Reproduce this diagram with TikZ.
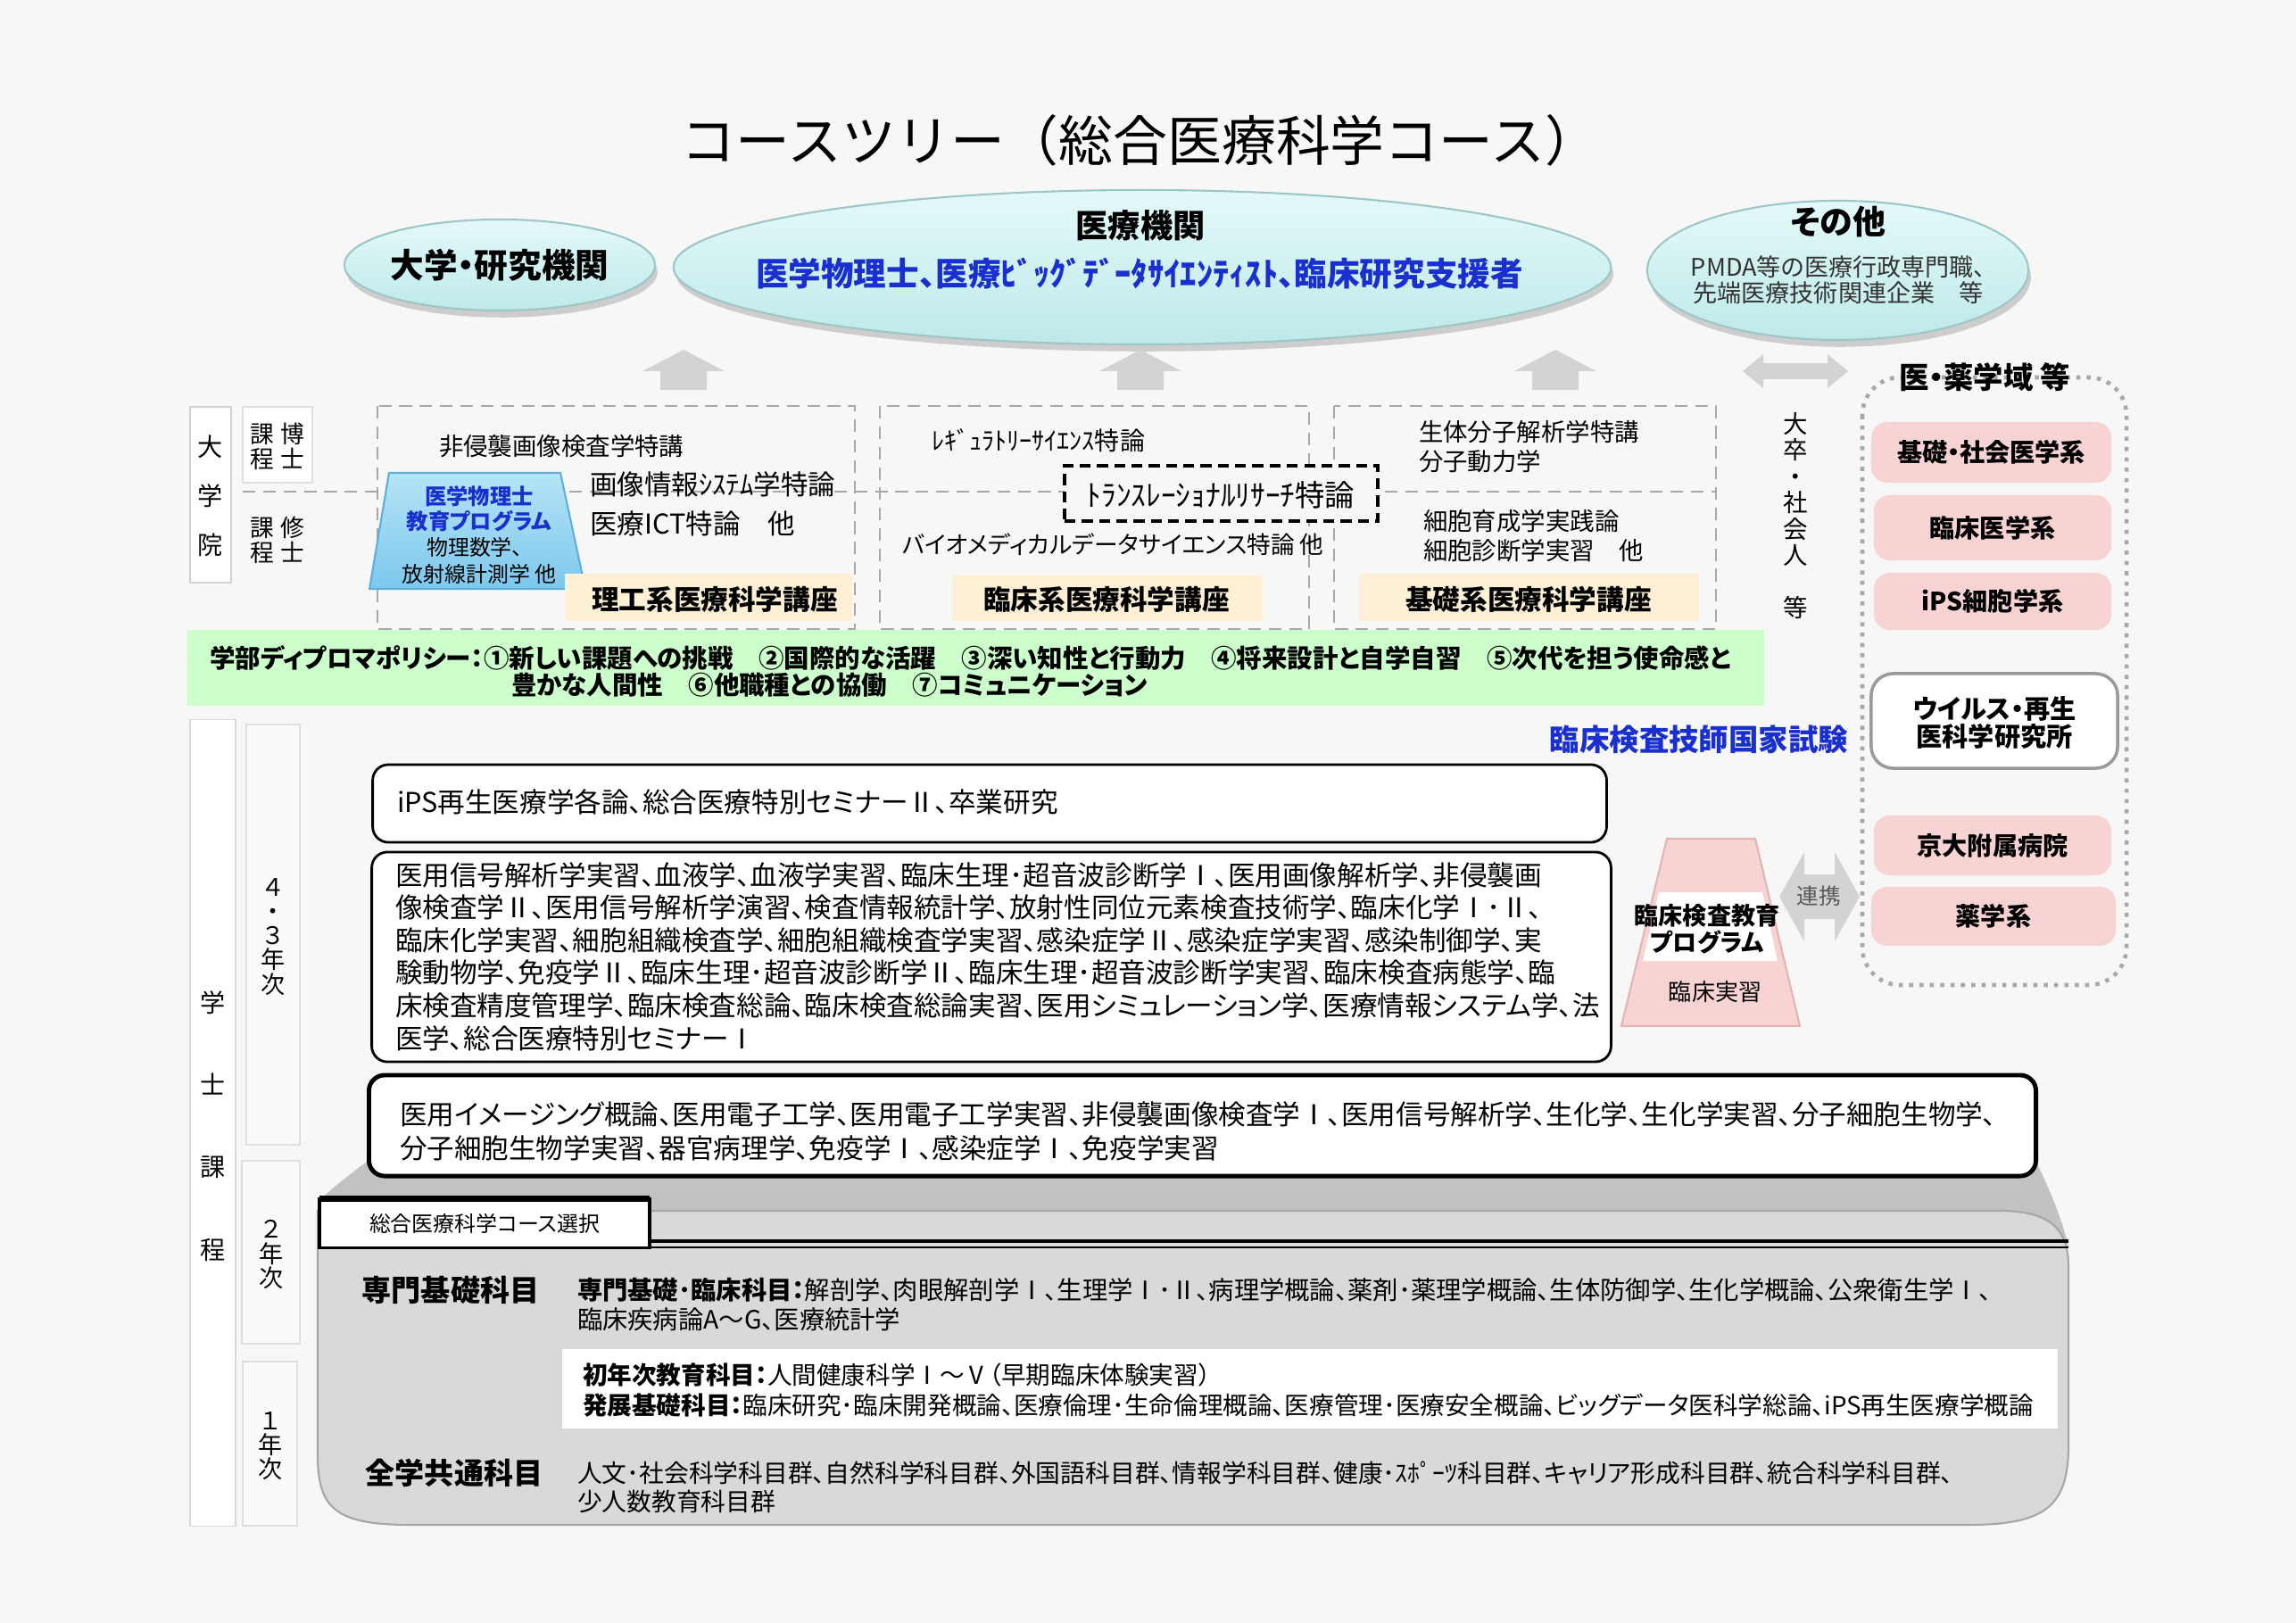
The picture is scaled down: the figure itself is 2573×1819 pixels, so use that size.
\documentclass[tikz,border=0pt]{standalone}
\usepackage{fontspec}
\usepackage{graphicx}
\setmainfont{Noto Sans CJK JP}[RawFeature={+palt}]
\newfontfamily\jpfull{Noto Sans CJK JP}
\usetikzlibrary{shapes.geometric,shadows,calc}
\XeTeXlinebreaklocale "ja"
\definecolor{bgc}{HTML}{F7F7F7}
\definecolor{cyantop}{HTML}{E4F9F9}
\definecolor{cyanbot}{HTML}{BEE9E9}
\definecolor{cyanrim}{HTML}{9FC6C6}
\definecolor{bluetxt}{HTML}{1A2FD0}
\definecolor{bluetop}{HTML}{B6E4F7}
\definecolor{bluebot}{HTML}{7CC8EE}
\definecolor{blueedge}{HTML}{5FAFD8}
\definecolor{yellowlab}{HTML}{FDF0D5}
\definecolor{greenband}{HTML}{CCFFCC}
\definecolor{pinkbox}{HTML}{F8D3D3}
\definecolor{pinkedge}{HTML}{E2B4B4}
\definecolor{graylight}{HTML}{D9D9D9}
\definecolor{graydark}{HTML}{C2C2C2}
\definecolor{grayedge}{HTML}{A6A6A6}
\definecolor{arrowgray}{HTML}{D3D3D3}
\definecolor{dashgray}{HTML}{A8A8A8}
\definecolor{yearfill}{HTML}{FAFAFA}
\newcommand\fsz[2]{\fontsize{#1}{#2}\selectfont}
\begin{document}
\begin{tikzpicture}[x=0.01cm,y=-0.01cm,
  every node/.style={inner sep=0pt,outer sep=0pt},
  tx/.style={align=left,anchor=west},
  ctr/.style={align=center},
  ell/.style={ellipse,top color=cyantop,bottom color=cyanbot,draw=cyanrim,line width=0.6pt,
    drop shadow={shadow xshift=0.8pt,shadow yshift=-2.2pt,opacity=0.35,fill=gray}},
  dbox/.style={draw=dashgray,dash pattern=on 4pt off 2.5pt,line width=0.6pt},
  ylab/.style={fill=yellowlab},
  pinkb/.style={fill=pinkbox,rounded corners=5pt,font=\bfseries\fsz{8}{9}},
  wbox/.style={draw=black,fill=white,rounded corners=5pt,line width=0.8pt},
  yearbox/.style={draw=gray!25,fill=yearfill},
  grayarrow/.style={fill=arrowgray}]

\fill[bgc] (0,0) rectangle (2573,1819);
\useasboundingbox (0,0) rectangle (2573,1819);

% title
\node[font=\jpfull\fsz{17.3}{19}] (title) at (1278,157) {コースツリー（総合医療科学コース）};

% ellipses
\node[ell,minimum width=3.48cm,minimum height=1.02cm] (e1) at (560,297) {};
\node[ell,minimum width=10.5cm,minimum height=1.73cm] (e2) at (1280,299.5) {};
\node[ell,minimum width=4.27cm,minimum height=1.56cm] (e3) at (2059.5,303) {};
\node[font=\bfseries\fsz{10.7}{11}] (e1t) at (560,297) {大学・研究機関};
\node[font=\bfseries\fsz{10.3}{11}] (e2t) at (1278,253) {医療機関};
\node[font=\bfseries\fsz{10.4}{11},text=bluetxt] (e2b) at (1277,307) {医学物理士、医療ﾋﾞｯｸﾞﾃﾞｰﾀｻｲｴﾝﾃｨｽﾄ、臨床研究支援者};
\node[font=\bfseries\fsz{10.5}{11}] (e3t) at (2060,249) {その他};
\node[ctr,font=\fsz{7.7}{7},text=black!80] (e3b) at (2060,314) {PMDA等の医療行政専門職、\\先端医療技術関連企業　等};

% up arrows
\foreach \ax in {766,1278,1743}{
  \fill[grayarrow] (\ax-26,437) -- (\ax-26,416) -- (\ax-46,416) -- (\ax,392) -- (\ax+46,416) -- (\ax+26,416) -- (\ax+26,437) -- cycle;
}
% double arrow top right
\fill[grayarrow] (1953,416) -- (1976,397) -- (1976,407) -- (2048,407) -- (2048,397) -- (2071,416) -- (2048,435) -- (2048,425) -- (1976,425) -- (1976,435) -- cycle;

% graduate school labels
\node[draw=gray!35,fill=white,minimum width=0.46cm,minimum height=1.97cm] (gradbox) at (236,554.5) {};
\node[ctr,font=\fsz{8}{15.6}] (gradtxt) at (236,556) {大\\学\\院};
\node[draw=gray!25,fill=white,minimum width=0.78cm,minimum height=0.85cm] (hakasebox) at (311,498.5) {};
\node[ctr,font=\fsz{7.6}{8}] (hakase) at (311,500) {課\hspace{2pt}博\\程\hspace{2pt}士};
\node[ctr,font=\fsz{7.6}{8}] (shushi) at (311,605) {課\hspace{2pt}修\\程\hspace{2pt}士};

% dashed frames
\draw[dbox] (423,455) rectangle (958,705);
\draw[dbox] (986,455) rectangle (1467,705);
\draw[dbox] (1495,455) rectangle (1923,705);
\draw[dashgray,dash pattern=on 4pt off 2.5pt,line width=0.5pt] (272,551) -- (1923,551);

% box 1
\node[tx,font=\fsz{7.8}{9}] (g1) at (492,500) {非侵襲画像検査学特講};
\node[tx,font=\fsz{8.7}{9}] (g2) at (661,543) {画像情報ｼｽﾃﾑ学特論};
\node[tx,font=\fsz{8.7}{9}] (g3) at (661,587) {医療ICT特論　他};
\shade[top color=bluetop,bottom color=bluebot,draw=blueedge,line width=0.6pt] (436,530) -- (628,530) -- (656,660) -- (414,660) -- cycle;
\node[font=\bfseries\fsz{6.9}{8},text=bluetxt] (mp1) at (537,556) {医学物理士};
\node[font=\bfseries\fsz{6.9}{8},text=bluetxt] (mp2) at (537,584) {教育プログラム};
\node[font=\fsz{6.8}{8}] (mp3) at (532,613) {物理数学、};
\node[font=\fsz{6.8}{8}] (mp4) at (537,643) {放射線計測学 他};
\node[ylab,minimum width=3.22cm,minimum height=0.53cm] (lab1) at (794,669.5) {};
\node[font=\bfseries\fsz{8.7}{9}] (lab1t) at (801,672) {理工系医療科学講座};

% box 2
\node[tx,font=\fsz{8}{9}] (g4) at (1044,494) {ﾚｷﾞｭﾗﾄﾘｰｻｲｴﾝｽ特論};
\node[draw=black,fill=bgc,dash pattern=on 3.5pt off 2pt,line width=1.1pt,minimum width=3.51cm,minimum height=0.62cm] (trs) at (1368.5,553) {};
\node[font=\fsz{9.5}{10}] (trst) at (1368,555) {ﾄﾗﾝｽﾚｰｼｮﾅﾙﾘｻｰﾁ特論};
\node[tx,font=\fsz{7.6}{9}] (g5) at (1011,610) {バイオメディカルデータサイエンス特論 他};
\node[ylab,minimum width=3.48cm,minimum height=0.51cm] (lab2) at (1241,670.5) {};
\node[font=\bfseries\fsz{8.7}{9}] (lab2t) at (1240,672) {臨床系医療科学講座};

% box 3
\node[tx,font=\fsz{7.8}{9}] (g6) at (1590,484) {生体分子解析学特講};
\node[tx,font=\fsz{7.8}{9}] (g7) at (1590,517) {分子動力学};
\node[tx,font=\fsz{7.8}{9}] (g8) at (1595,584) {細胞育成学実践論};
\node[tx,font=\fsz{7.8}{9}] (g9) at (1595,617) {細胞診断学実習　他};
\node[ylab,minimum width=3.81cm,minimum height=0.53cm] (lab3) at (1713.5,669.5) {};
\node[font=\bfseries\fsz{8.7}{9}] (lab3t) at (1713,672) {基礎系医療科学講座};

% diploma policy band
\fill[greenband] (210,706) rectangle (1977,791);
\node[tx,font=\bfseries\fsz{8.1}{9}] (dp1) at (235,737) {学部ディプロマポリシー：①新しい課題への挑戦　②国際的な活躍　③深い知性と行動力　④将来設計と自学自習　⑤次代を担う使命感と};
\node[tx,font=\bfseries\fsz{8.1}{9}] (dp2) at (573,768) {豊かな人間性　⑥他職種との協働　⑦コミュニケーション};

% right side
\node[ctr,font=\fsz{7.8}{8.4}] (sotsu) at (2012,578) {大\\卒\\・\\社\\会\\人\\[8.4pt]等};
\draw[dashgray,dotted,line width=1.3pt,rounded corners=12pt] (2087,423) rectangle (2383,1104);
\node[font=\bfseries\fsz{9.5}{10}] (yakutitle) at (2224,423) {医・薬学域 等};
\node[pinkb,minimum width=2.69cm,minimum height=0.68cm] (p1) at (2231.5,507) {基礎・社会医学系};
\node[pinkb,minimum width=2.66cm,minimum height=0.73cm] (p2) at (2233,591.5) {臨床医学系};
\node[pinkb,minimum width=2.66cm,minimum height=0.64cm] (p3) at (2233,674) {iPS細胞学系};
\node[draw=gray!80,line width=1pt,fill=white,rounded corners=7pt,minimum width=2.76cm,minimum height=1.06cm] (p4) at (2235,808) {};
\node[ctr,font=\bfseries\fsz{8.3}{8.8}] (p4t) at (2235,810) {ウイルス・再生\\医科学研究所};
\node[pinkb,minimum width=2.66cm,minimum height=0.67cm] (p5) at (2233,947.5) {京大附属病院};
\node[pinkb,minimum width=2.74cm,minimum height=0.66cm] (p6) at (2234,1027) {薬学系};

\node[anchor=east,font=\bfseries\fsz{9.5}{10},text=bluetxt] (kokushi) at (2071,829) {臨床検査技師国家試験};

% undergraduate labels
\node[draw=gray!30,fill=white,minimum width=0.51cm,minimum height=9.03cm] (gakushibox) at (238.5,1258.5) {};
\node[ctr,font=\fsz{8}{26.2}] (gakushi) at (238.5,1262) {学\\士\\課\\程};
\node[yearbox,minimum width=0.60cm,minimum height=4.71cm] (y43) at (306,1047.5) {};
\node[ctr,font=\fsz{7.7}{7.7}] (y43t) at (306,1050) {４\\・\\３\\年\\次};
\node[yearbox,minimum width=0.65cm,minimum height=2.05cm] (y2) at (303.5,1403.5) {};
\node[ctr,font=\fsz{7.7}{7.7}] (y2t) at (304,1406) {２\\年\\次};
\node[yearbox,minimum width=0.61cm,minimum height=1.84cm] (y1) at (302.5,1618) {};
\node[ctr,font=\fsz{7.7}{7.7}] (y1t) at (303,1621) {１\\年\\次};

% gray slab
\fill[graydark] (414,1300) -- (2281,1300) .. controls (2300,1340) and (2312,1370) .. (2318,1398) -- (356,1398) -- (358,1345) .. controls (380,1325) and (400,1310) .. (414,1300) -- cycle;
\filldraw[fill=graylight,draw=grayedge,line width=0.6pt] (356,1357) -- (2240,1357) .. controls (2295,1357) and (2318,1375) .. (2318,1420) -- (2318,1620) .. controls (2318,1690) and (2290,1709) .. (2205,1709) -- (460,1709) .. controls (375,1709) and (356,1690) .. (356,1630) -- cycle;
\draw[line width=1.3pt] (358,1391) -- (2318,1391);
\draw[line width=0.5pt] (358,1398) -- (2318,1398);
\node[draw=black,line width=1pt,fill=white,minimum width=3.70cm,minimum height=0.55cm,font=\fsz{6.8}{7}] (tab) at (543,1371) {総合医療科学コース選択};
\draw[line width=2pt] (tab.north west) -- (tab.north east);
\node[fill=white,minimum width=16.75cm,minimum height=0.89cm] (wboxbg) at (1467.5,1556.5) {};

\node[font=\bfseries\fsz{9.4}{10}] (senmon) at (505,1446) {専門基礎科目};
\node[tx,font=\fsz{8.05}{9.2}] (senmont) at (647,1462) {\textbf{専門基礎･臨床科目：}解剖学、肉眼解剖学Ⅰ、生理学Ⅰ･Ⅱ、病理学概論、薬剤･薬理学概論、生体防御学、生化学概論、公衆衛生学Ⅰ、\\臨床疾病論A～G、医療統計学};
\node[tx,font=\fsz{7.85}{9.6}] (wboxt) at (653,1558) {\textbf{初年次教育科目：}人間健康科学Ⅰ～Ⅴ（早期臨床体験実習）\\\textbf{発展基礎科目：}臨床研究･臨床開発概論、医療倫理･生命倫理概論、医療管理･医療安全概論、ビッグデータ医科学総論、iPS再生医療学概論};
\node[font=\bfseries\fsz{9.4}{10}] (zengaku) at (509,1651) {全学共通科目};
\node[tx,font=\fsz{7.9}{9.2}] (zengakut) at (647,1667) {人文･社会科学科目群、自然科学科目群、外国語科目群、情報学科目群、健康･ｽﾎﾟｰﾂ科目群、キャリア形成科目群、統合科学科目群、\\少人数教育科目群};

% course boxes
\node[wbox,minimum width=13.82cm,minimum height=0.87cm] (boxA) at (1109,900.5) {};
\node[tx,font=\fsz{8.7}{10.4}] (boxAt) at (445,899) {iPS再生医療学各論、総合医療特別セミナーⅡ、卒業研究};
\node[wbox,minimum width=13.88cm,minimum height=2.35cm] (boxB) at (1111,1072.5) {};
\node[tx,font=\fsz{8.7}{10.4}] (boxBt) at (443,1072) {医用信号解析学実習、血液学、血液学実習、臨床生理･超音波診断学Ⅰ、医用画像解析学、非侵襲画\\像検査学Ⅱ、医用信号解析学演習、検査情報統計学、放射性同位元素検査技術学、臨床化学Ⅰ･Ⅱ、\\臨床化学実習、細胞組織検査学、細胞組織検査学実習、感染症学Ⅱ、感染症学実習、感染制御学、実\\験動物学、免疫学Ⅱ、臨床生理･超音波診断学Ⅱ、臨床生理･超音波診断学実習、臨床検査病態学、臨\\床検査精度管理学、臨床検査総論、臨床検査総論実習、医用シミュレーション学、医療情報システム学、法\\医学、総合医療特別セミナーⅠ};
\node[wbox,line width=1.4pt,minimum width=18.67cm,minimum height=1.13cm] (boxC) at (1347.5,1261.5) {};
\node[tx,font=\fsz{8.7}{10.8}] (boxCt) at (448,1268) {医用イメージング概論、医用電子工学、医用電子工学実習、非侵襲画像検査学Ⅰ、医用信号解析学、生化学、生化学実習、分子細胞生物学、\\分子細胞生物学実習、器官病理学、免疫学Ⅰ、感染症学Ⅰ、免疫学実習};

% clinical lab program trapezoid
\filldraw[fill=pinkbox,draw=pinkedge,line width=0.6pt] (1868,940) -- (1967,940) -- (2017,1150) -- (1817,1150) -- cycle;
\fill[white] (1859,1000) -- (1975,1000) -- (1992,1077) -- (1841,1077) -- cycle;
\node[font=\bfseries\fsz{7.7}{8}] (cl1) at (1913,1026) {臨床検査教育};
\node[font=\bfseries\fsz{7.7}{8}] (cl2) at (1913,1056) {プログラム};
\node[font=\fsz{7.4}{8}] (cl3) at (1922,1112) {臨床実習};

% renkei arrow
\fill[grayarrow] (1994,1005) -- (2022,955) -- (2022,980) -- (2056,980) -- (2056,955) -- (2084,1005) -- (2056,1055) -- (2056,1030) -- (2022,1030) -- (2022,1055) -- cycle;
\node[font=\fsz{7}{8},text=black!65] (renkei) at (2038,1004) {連携};

\end{tikzpicture}
\end{document}
